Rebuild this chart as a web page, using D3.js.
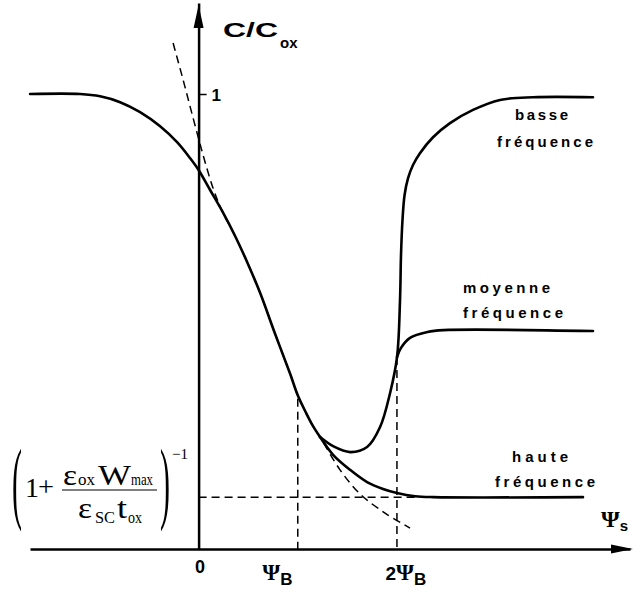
<!DOCTYPE html>
<html>
<head>
<meta charset="utf-8">
<script src="https://cdn.jsdelivr.net/npm/d3@7"></script>
<style>
  html, body { margin: 0; padding: 0; background: #fff; }
  svg { display: block; }
</style>
</head>
<body>
<svg id="chart" width="634" height="595"></svg>
<script>
// ---- data (x in units of Psi_B, y = C/Cox) ----
const commonPsi = [-1.699, -1.195, -0.993, -0.791, -0.590, -0.388, -0.217, -0.086, 0, 0.116, 0.237, 0.368, 0.499, 0.620, 0.771, 0.923, 1.003, 1.084, 1.154, 1.225];
const commonC   = [1.0, 1.0, 0.995, 0.982, 0.960, 0.929, 0.894, 0.859, 0.833, 0.789, 0.743, 0.688, 0.626, 0.563, 0.473, 0.385, 0.336, 0.299, 0.270, 0.246];

const lowPsi = [1.225, 1.356, 1.527, 1.699, 1.830, 1.931, 2.001, 2.031, 2.041, 2.056, 2.077, 2.112, 2.162, 2.232, 2.364, 2.535, 2.767, 3.039, 3.372, 3.977];
const lowC   = [0.246, 0.226, 0.213, 0.224, 0.268, 0.343, 0.422, 0.547, 0.646, 0.723, 0.778, 0.815, 0.844, 0.870, 0.905, 0.936, 0.965, 0.987, 0.993, 0.993];

const midPsi = [2.001, 2.041, 2.132, 2.308, 2.469, 3.977];
const midC   = [0.422, 0.442, 0.464, 0.477, 0.481, 0.479];

const highPsi = [1.225, 1.356, 1.527, 1.699, 1.860, 2.001, 2.183, 2.364, 3.876];
const highC   = [0.246, 0.207, 0.174, 0.147, 0.132, 0.123, 0.116, 0.114, 0.114];

const asymPsi = [-0.257, -0.156, -0.055, 0.045, 0.146, 0.237, 0.368, 0.499, 0.620, 0.771, 0.923, 1.003, 1.084, 1.154, 1.225, 1.426, 1.628, 1.880, 2.132];
const asymC   = [1.112, 1.031, 0.947, 0.866, 0.793, 0.743, 0.688, 0.626, 0.563, 0.473, 0.385, 0.336, 0.299, 0.270, 0.246, 0.174, 0.121, 0.079, 0.046];

const cMinHF = 0.114;          // high-frequency plateau
const psiB1Top = 0.330;        // top of dashed line at Psi_B
const psiB2Top = 0.422;        // top of dashed line at 2 Psi_B
const hDashEnd = 2.203;

const xTickValues = [0, 1, 2];
const xTickMain = ["0", "Ψ", "2Ψ"];
const xTickSub  = ["", "B", "B"];
const yTickValues = [1];
const yTickLabels = ["1"];

const curveLabels = [
  {text: "basse",     x: 515, y: 120, len: 53},
  {text: "fréquence", x: 497, y: 147, len: 96},
  {text: "moyenne",   x: 463, y: 293, len: 87},
  {text: "fréquence", x: 463, y: 318, len: 100},
  {text: "haute",     x: 512, y: 462, len: 56},
  {text: "fréquence", x: 495, y: 487, len: 100}
];

// ---- scales ----
const x = d3.scaleLinear().domain([-1.7, 4.35]).range([30, 630]);
const y = d3.scaleLinear().domain([0, 1.2]).range([549, 3]);

const svg = d3.select("#chart");
const SANS = "'Liberation Sans', Arial, sans-serif";
const SERIF = "'Liberation Serif', 'Times New Roman', serif";

const line = d3.line().x(d => x(d[0])).y(d => y(d[1])).curve(d3.curveCatmullRom.alpha(0.5));
const zip = (a, b) => a.map((v, i) => [v, b[i]]);

// ---- axes ----
const xAxis = d3.axisBottom(x).tickValues(xTickValues).tickSize(0).tickSizeOuter(0);
const gx = svg.append("g").attr("transform", `translate(0,${y(0)})`).call(xAxis);
gx.select(".domain").attr("stroke", "#000").attr("stroke-width", 2.5);
gx.selectAll(".tick text").each(function(d, i) {
  const t = d3.select(this);
  t.text(null).attr("fill", "#000").attr("y", i === 0 ? 24 : 31).attr("dy", null);
  if (i === 0) {
    t.attr("text-anchor", "middle").attr("x", 1)
      .style("font-family", SANS).style("font-weight", "bold").style("font-size", "18px")
      .text(xTickMain[i]);
  } else {
    t.attr("text-anchor", "start").attr("x", i === 1 ? -36 : -12);
    const main = xTickMain[i];
    if (main.startsWith("2")) {
      t.append("tspan").style("font-family", SANS).style("font-weight", "bold").style("font-size", "19px").text("2");
    }
    t.append("tspan").style("font-family", SERIF).style("font-weight", "bold").style("font-size", "23px").text("Ψ");
    t.append("tspan").attr("dy", 5).style("font-family", SANS).style("font-weight", "bold").style("font-size", "17px").text(xTickSub[i]);
  }
});

const yAxis = d3.axisRight(y).tickValues(yTickValues).tickSize(8).tickSizeOuter(0).tickFormat((d, i) => yTickLabels[i]);
const gy = svg.append("g").attr("transform", `translate(${x(0)},0)`).call(yAxis);
gy.select(".domain").attr("stroke", "#000").attr("stroke-width", 2.5);
gy.selectAll(".tick line").attr("stroke", "#000").attr("stroke-width", 1.5);
gy.selectAll(".tick text").attr("fill", "#000").attr("x", 13).attr("dy", "0.36em")
  .style("font-family", SANS).style("font-weight", "bold").style("font-size", "17px");

// arrowheads
const x0 = x(0), yb = y(0);
svg.append("path").attr("d", `M${x0},5 L${x0 - 5},28 L${x0 + 5},28 Z`).attr("fill", "#000");
svg.append("path").attr("d", `M633,${yb} L611,${yb - 4.5} L611,${yb + 4.5} Z`).attr("fill", "#000");

// ---- dashed guides ----
const dash = {stroke: "#000", "stroke-width": 1.5, "stroke-dasharray": "8,5", fill: "none"};
function applyAttrs(sel, o) { Object.entries(o).forEach(([k, v]) => sel.attr(k, v)); return sel; }
applyAttrs(svg.append("line").attr("x1", x(1)).attr("x2", x(1)).attr("y1", y(psiB1Top)).attr("y2", y(0)), dash);
applyAttrs(svg.append("line").attr("x1", x(2)).attr("x2", x(2)).attr("y1", y(psiB2Top)).attr("y2", y(0)), dash);
applyAttrs(svg.append("line").attr("x1", x(0)).attr("x2", x(hDashEnd)).attr("y1", y(cMinHF)).attr("y2", y(cMinHF)), dash);
applyAttrs(svg.append("path").attr("d", line(zip(asymPsi, asymC))), dash);

// ---- curves ----
const solid = {stroke: "#000", "stroke-width": 2.6, fill: "none", "stroke-linecap": "round", "stroke-linejoin": "round"};
applyAttrs(svg.append("path").attr("d", line(zip(commonPsi, commonC))), solid);
applyAttrs(svg.append("path").attr("d", line(zip(lowPsi, lowC))), solid);
applyAttrs(svg.append("path").attr("d", line(zip(midPsi, midC))), solid);
applyAttrs(svg.append("path").attr("d", line(zip(highPsi, highC))), solid);

// ---- curve labels ----
curveLabels.forEach(l => {
  svg.append("text").attr("x", l.x).attr("y", l.y).attr("textLength", l.len).attr("lengthAdjust", "spacing")
    .style("font-family", SANS).style("font-weight", "bold").style("font-size", "15px").text(l.text);
});

// ---- axis titles ----
svg.append("text").attr("x", 223).attr("y", 37).attr("textLength", 55).attr("lengthAdjust", "spacingAndGlyphs")
  .style("font-family", SANS).style("font-weight", "bold").style("font-size", "21px").text("C/C");
svg.append("text").attr("x", 280).attr("y", 48)
  .style("font-family", SANS).style("font-weight", "bold").style("font-size", "15px").text("ox");

const ps = svg.append("text").attr("x", 601).attr("y", 527);
ps.append("tspan").style("font-family", SERIF).style("font-weight", "bold").style("font-size", "24px").text("Ψ");
ps.append("tspan").attr("dy", 4).style("font-family", SANS).style("font-weight", "bold").style("font-size", "15px").text("s");

// ---- formula for the HF minimum ----
const f = svg.append("g").style("font-family", SERIF).attr("fill", "#000");
function ft(xp, yp, size, txt, len) {
  const t = f.append("text").attr("x", xp).attr("y", yp).style("font-size", size + "px").text(txt);
  if (len) t.attr("textLength", len).attr("lengthAdjust", "spacingAndGlyphs");
  return t;
}
f.append("text").attr("transform", "translate(12,489) scale(1,3)").attr("y", 7.6).style("font-size", "30px").text("(");
f.append("text").attr("transform", "translate(160,489) scale(1,3)").attr("y", 7.6).style("font-size", "30px").text(")");
ft(25, 497, 28, "1");
ft(38, 496, 28, "+", 16);
f.append("line").attr("x1", 62).attr("x2", 157).attr("y1", 490).attr("y2", 490).attr("stroke", "#000").attr("stroke-width", 1.2);
ft(63, 485, 30, "ε", 14);
ft(78, 485, 17, "ox", 17);
ft(98, 485, 29, "W", 33);
ft(131, 485, 17, "max", 22);
ft(78, 518, 30, "ε", 14);
ft(95, 523, 17, "SC", 20);
ft(117, 518, 30, "t", 10);
ft(128, 523, 17, "ox", 14);
ft(172, 459, 15, "−1");
</script>
</body>
</html>
